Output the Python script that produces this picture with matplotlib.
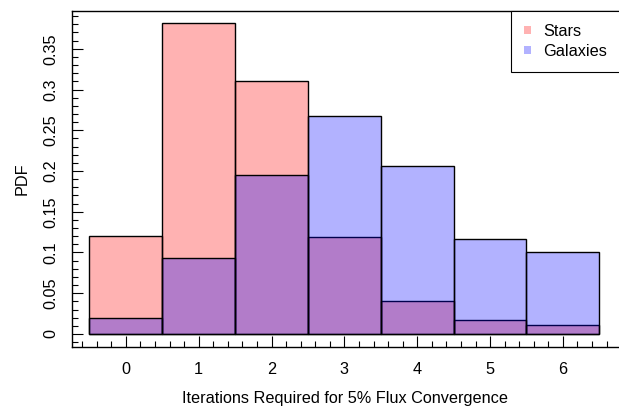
import numpy as np
import matplotlib
matplotlib.use('Agg')
import matplotlib.pyplot as plt
from matplotlib.ticker import MultipleLocator

plt.rcParams['font.family'] = ['Liberation Sans', 'DejaVu Sans']

iterations = [0, 1, 2, 3, 4, 5, 6]
stars = [0.120, 0.382, 0.311, 0.119, 0.040, 0.017, 0.011]
galaxies = [0.020, 0.093, 0.195, 0.268, 0.206, 0.117, 0.100]
ytick_vals = [0, 0.05, 0.1, 0.15, 0.2, 0.25, 0.3, 0.35]
ytick_labels = ['0', '0.05', '0.1', '0.15', '0.2', '0.25', '0.3', '0.35']

fs = 11.7

fig = plt.figure(figsize=(6.19, 4.07), dpi=100)
ax = fig.add_axes([0.1163, 0.1474, 0.8837, 0.8268])

ax.bar(iterations, stars, width=1, color=(1, 0, 0, 0.3), edgecolor='black',
       linewidth=1, label='Stars')
ax.bar(iterations, galaxies, width=1, color=(0, 0, 1, 0.3), edgecolor='black',
       linewidth=1, label='Galaxies')

ax.set_xlim(-0.74, 6.77)
ax.set_ylim(-0.016, 0.397)

ax.set_xticks(iterations)
ax.xaxis.set_minor_locator(MultipleLocator(0.2))
ax.set_yticks(ytick_vals)
ax.set_yticklabels(ytick_labels, rotation=90, va='center')
ax.yaxis.set_minor_locator(MultipleLocator(0.01))

ax.tick_params(which='major', direction='in', length=8, width=0.8, labelsize=fs)
ax.tick_params(axis='x', which='major', pad=11)
ax.tick_params(axis='y', which='major', pad=10)
ax.tick_params(which='minor', direction='in', length=4, width=0.8)

ax.spines['right'].set_visible(False)
for s in ['left', 'bottom', 'top']:
    ax.spines[s].set_linewidth(1)

ax.set_xlabel('Iterations Required for 5% Flux Convergence', fontsize=fs, labelpad=10)
ax.set_ylabel('PDF', fontsize=fs, labelpad=10)

leg = ax.legend(loc='upper left', bbox_to_anchor=(0.8026, 1.0), borderaxespad=0,
                fontsize=fs, fancybox=False, framealpha=1, handlelength=0.4,
                handleheight=0.4, handletextpad=0.8, borderpad=0.8,
                labelspacing=0.35)
leg.get_frame().set_edgecolor('black')
leg.get_frame().set_linewidth(0.8)
for h in leg.legend_handles:
    h.set_edgecolor('none')

fig.savefig('out.png', dpi=100)
